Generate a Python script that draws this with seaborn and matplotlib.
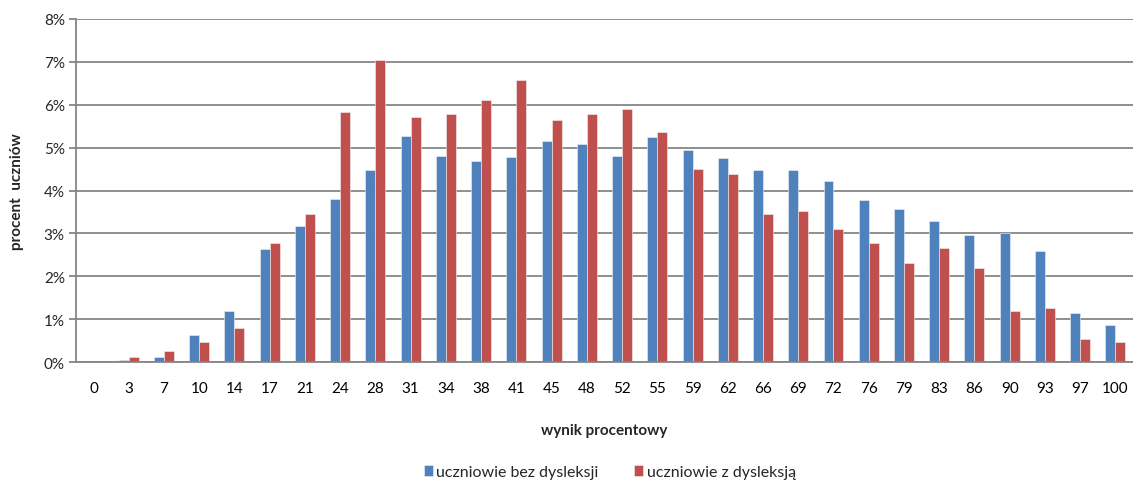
import numpy as np
import pandas as pd
import matplotlib
matplotlib.use("Agg")
import matplotlib.pyplot as plt
import seaborn as sns
from matplotlib.ticker import FuncFormatter, FixedLocator, NullFormatter

categories = ["0", "3", "7", "10", "14", "17", "21", "24", "28", "31", "34", "38", "41", "45", "48",
              "52", "55", "59", "62", "66", "69", "72", "76", "79", "83", "86", "90", "93", "97", "100"]
bez_dysleksji = [0.00, 0.04, 0.12, 0.63, 1.20, 2.63, 3.18, 3.81, 4.47, 5.27, 4.81, 4.68, 4.77, 5.15, 5.09,
                 4.81, 5.24, 4.95, 4.75, 4.48, 4.47, 4.23, 3.77, 3.57, 3.28, 2.97, 3.01, 2.59, 1.14, 0.87]
z_dysleksja = [0.00, 0.12, 0.26, 0.47, 0.79, 2.78, 3.45, 5.83, 7.04, 5.71, 5.78, 6.10, 6.57, 5.64, 5.78,
               5.90, 5.37, 4.50, 4.38, 3.45, 3.52, 3.11, 2.78, 2.32, 2.66, 2.19, 1.20, 1.26, 0.54, 0.47]
series_names = ["uczniowie bez dysleksji", "uczniowie z dysleksją"]
y_ticks = [0, 1, 2, 3, 4, 5, 6, 7, 8]

df = pd.DataFrame({
    "wynik": categories * 2,
    "procent": bez_dysleksji + z_dysleksja,
    "grupa": [series_names[0]] * len(categories) + [series_names[1]] * len(categories),
})

sns.set_theme(style="white")
plt.rcParams["font.family"] = ["Lato", "DejaVu Sans"]

fig = plt.figure(figsize=(11.33, 4.85), dpi=100)
ax = fig.add_axes([0.067, 0.2515, 0.933, 0.7073])

palette = {series_names[0]: "#4F81BD", series_names[1]: "#C0504D"}
sns.barplot(data=df, x="wynik", y="procent", hue="grupa", order=categories,
            hue_order=series_names, palette=palette, width=0.567, ax=ax,
            saturation=1, edgecolor="#f2f2f2", linewidth=0.4, legend=True)

ax.set_xlim(-0.5, len(categories) - 0.5)
ax.set_ylim(0, 8)
ax.set_yticks(y_ticks)
ax.yaxis.set_major_formatter(FuncFormatter(lambda v, p: f"{int(v)}%"))
ax.grid(axis="y", color="#868686", linewidth=1.3)
ax.set_axisbelow(True)

for s in ["top", "right"]:
    ax.spines[s].set_visible(False)
ax.spines["left"].set_color("#868686")
ax.spines["bottom"].set_color("#868686")
ax.spines["left"].set_linewidth(1.3)
ax.spines["bottom"].set_linewidth(1.3)

ax.tick_params(axis="x", which="major", length=0, pad=14, labelsize=11, labelcolor="black")
ax.xaxis.set_minor_locator(FixedLocator(np.arange(-0.5, len(categories), 1.0)))
ax.xaxis.set_minor_formatter(NullFormatter())
ax.tick_params(axis="x", which="minor", length=5, width=1.3, color="#868686", direction="out")
ax.tick_params(axis="y", which="major", length=5, width=1.3, color="#868686", direction="out",
               labelsize=11, pad=3, left=True)

ax.set_xlabel("wynik procentowy", fontsize=11, fontweight="bold", labelpad=20)
ax.set_ylabel("procent  uczniów", fontsize=11, fontweight="bold", labelpad=14)

handles, labels = ax.get_legend_handles_labels()
ax.legend(handles, labels, loc="upper center", bbox_to_anchor=(0.505, -0.30), ncol=2,
          frameon=False, fontsize=11.5, handlelength=0.6, handleheight=0.7, handletextpad=0.2,
          columnspacing=2.2, borderaxespad=0, borderpad=0)

fig.savefig("out.png", dpi=100)
